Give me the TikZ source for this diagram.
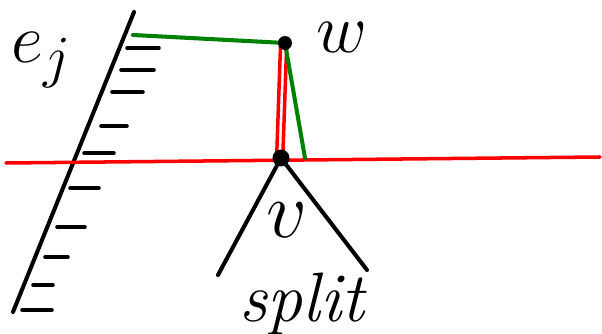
\documentclass[tikz,border=0pt]{standalone}
\usepackage{tikz}
\usetikzlibrary{positioning,backgrounds}
\usepackage{amsmath}

\begin{document}
\begin{tikzpicture}[
    x=0.02cm, y=-0.02cm,
    pen/.style={line width=2.3pt, line cap=round, black},
    redpen/.style={line width=2pt, line cap=round, red},
    greenpen/.style={line width=2.3pt, line cap=round, green!50!black},
    dot/.style={circle, fill=black, inner sep=0pt, minimum size=0.34cm},
    lbl/.style={font=\Huge, inner sep=0pt, scale=1.6},
  ]
  \useasboundingbox (0,0) rectangle (602,334);

  % vertices
  \node[dot, minimum size=0.28cm] (w) at (285,43) {};
  \node[dot] (v) at (281,158) {};

  \begin{scope}[on background layer]
  % the edge e_j and its hatching
  \coordinate (etop) at (134,12);
  \coordinate (ebot) at (13,312);
  \draw[pen] (etop) -- (ebot);
  \foreach \y/\a/\b in {48/127/159, 70/121/154, 92/112/143, 126/101/127,
      153/84/114, 188/70/99, 227/57/85, 257/45/68, 285/33/53, 310/22/52}
    \draw[pen, line width=2pt] (\a,\y) -- (\b,\y);

  % the sweep line
  \coordinate (sl) at (6,163);
  \coordinate (sr) at (600,157);
  \draw[redpen] (sl) -- (sr);

  % red double connection w -- v
  \draw[redpen] ([xshift=-2.5pt]w.center) -- ([xshift=-2.5pt]v.center);
  \draw[redpen] ([xshift=1pt]w.center) -- ([xshift=1pt]v.center);

  % green path from e_j over w down to the sweep line
  \coordinate (g0) at (133,35);
  \coordinate (g2) at (305,158);
  \draw[greenpen] (g0) -- (w.center) -- (g2);

  % split subtree
  \coordinate (tl) at (218,275);
  \coordinate (tr) at (367,270);
  \draw[pen] (tl) -- (v.center) -- (tr);
  \end{scope}

  \node[lbl] (ej) at (42,60) {$e_j$};
  \node[lbl] (wl) at (342,37) {$w$};
  \node[lbl, scale=1.15] (vl) at (287,220) {$v$};
  \node[lbl, font=\Huge\itshape] (split) at (302,304) {split};
\end{tikzpicture}
\end{document}
